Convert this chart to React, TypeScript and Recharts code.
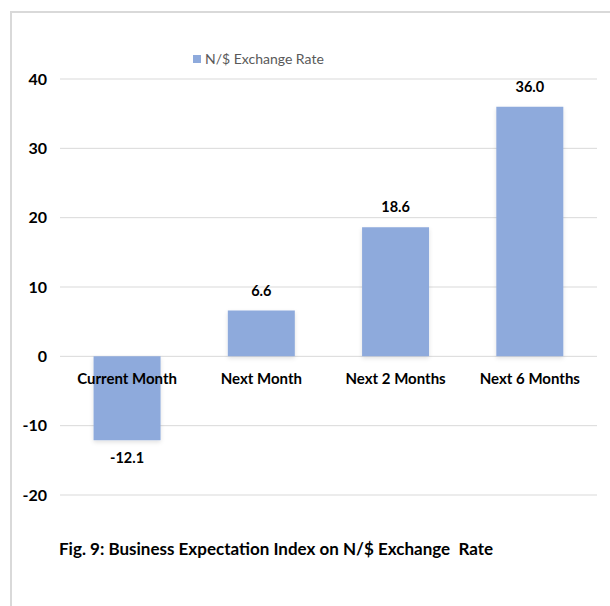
import React from 'react';
import { BarChart, Bar, XAxis, YAxis, CartesianGrid, LabelList, Rectangle } from 'recharts';

const categories = ['Current Month', 'Next Month', 'Next 2 Months', 'Next 6 Months'];
const exchangeRate = [-12.1, 6.6, 18.6, 36.0];
const yTicks = [-20, -10, 0, 10, 20, 30, 40];

const seriesName = 'N/$ Exchange Rate';
const title = 'Fig. 9: Business Expectation Index on N/$ Exchange  Rate';

const data = categories.map((name, i) => ({ name, value: exchangeRate[i] }));

const FONT = "Lato, 'Liberation Sans', sans-serif";
const BAR_COLOR = '#8eaadc';

// chart geometry
const CHART_W = 610;
const CHART_H = 540;
const MARGIN = { top: 79, right: 13, bottom: 15, left: 0 };
const X_AXIS_H = 30;
const Y_MIN = -20;
const Y_MAX = 40;
const PLOT_H = CHART_H - MARGIN.top - MARGIN.bottom - X_AXIS_H;
const ZERO_Y = MARGIN.top + (PLOT_H * Y_MAX) / (Y_MAX - Y_MIN);

// category names sit just under the zero line, not at the bottom of the plot
const CategoryTick = (props: any) => {
  const { x, payload } = props;
  return (
    <text x={x} y={ZERO_Y + 28} textAnchor="middle" fill="#000" fontFamily={FONT} fontSize={15} fontWeight={700}>
      {payload.value}
    </text>
  );
};

const ValueLabel = (props: any) => {
  const { x, y, width, height, value } = props;
  const top = Math.min(y, y + height);
  const bottom = Math.max(y, y + height);
  const ty = value >= 0 ? top - 15 : bottom + 23;
  return (
    <text x={x + width / 2} y={ty} textAnchor="middle" fill="#000" fontFamily={FONT} fontSize={14.5} fontWeight={700}>
      {Number(value).toFixed(1)}
    </text>
  );
};

export default function App() {
  return (
    <div style={{ position: 'absolute', left: 0, top: 0, width: 610, height: 606, background: '#fff', overflow: 'hidden' }}>
      <div
        style={{
          position: 'absolute',
          left: 10,
          top: 11,
          width: 700,
          height: 700,
          borderTop: '2px solid #d9d9d9',
          borderLeft: '2px solid #d9d9d9',
        }}
      />
      <div style={{ position: 'absolute', left: 0, top: 0 }}>
        <BarChart width={CHART_W} height={CHART_H} data={data} margin={MARGIN} barCategoryGap="25%">
          <defs>
            <filter id="barShadow" x="-20%" y="-20%" width="140%" height="140%">
              <feDropShadow dx="0" dy="2" stdDeviation="2" floodColor="#000" floodOpacity="0.12" />
            </filter>
          </defs>
          <CartesianGrid vertical={false} stroke="#d9d9d9" strokeWidth={1} />
          <XAxis dataKey="name" height={X_AXIS_H} axisLine={false} tickLine={false} tick={<CategoryTick />} interval={0} />
          <YAxis
            width={60}
            domain={[Y_MIN, Y_MAX]}
            ticks={yTicks}
            axisLine={false}
            tickLine={false}
            tickMargin={7}
            tick={{ fill: '#000', fontFamily: FONT, fontSize: 16, fontWeight: 700 }}
          />
          <Bar
            dataKey="value"
            name={seriesName}
            fill={BAR_COLOR}
            isAnimationActive={false}
            shape={(p: any) => <Rectangle {...p} filter="url(#barShadow)" />}
          >
            <LabelList dataKey="value" content={<ValueLabel />} />
          </Bar>
        </BarChart>
      </div>
      {/* legend */}
      <div
        style={{
          position: 'absolute',
          left: 193,
          top: 50,
          display: 'flex',
          alignItems: 'center',
          fontFamily: FONT,
          fontSize: 14,
          color: '#595959',
          whiteSpace: 'nowrap',
        }}
      >
        <span style={{ width: 8, height: 8, background: BAR_COLOR, marginRight: 4, display: 'inline-block' }} />
        <span>{seriesName}</span>
      </div>
      <div
        style={{
          position: 'absolute',
          left: 59,
          top: 538,
          fontFamily: FONT,
          fontSize: 17,
          fontWeight: 700,
          whiteSpace: 'pre',
          color: '#000',
        }}
      >
        {title}
      </div>
    </div>
  );
}
